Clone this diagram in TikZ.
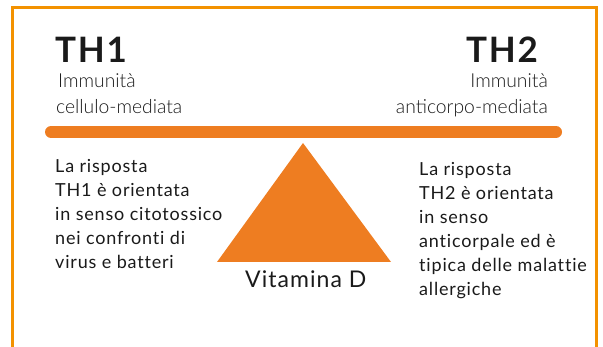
\documentclass[tikz,border=0pt]{standalone}
\usepackage{fontspec}
\setmainfont{Lato}
\newfontfamily\lightfont{Lato Light}
\newfontfamily\spacedfont[LetterSpace=4.5, Ligatures=NoCommon]{Lato}
\newfontfamily\titlefont[LetterSpace=5]{Lato Bold}
\definecolor{barorange}{HTML}{EE7D21}
\definecolor{frameorange}{HTML}{F39200}
\definecolor{txt}{HTML}{1A1A1A}
\begin{document}
\begin{tikzpicture}[x=1pt,y=-1pt,
  title/.style={font=\titlefont\fontsize{35}{40}\selectfont, text=txt, inner sep=0pt},
  sub/.style={font=\lightfont\fontsize{19.3}{25}\selectfont, text=txt, inner sep=0pt},
  para/.style={font=\spacedfont\fontsize{18}{24}\selectfont, text=txt, inner sep=0pt},
  vit/.style={font=\spacedfont\fontsize{23}{26}\selectfont, text=txt, inner sep=0pt}]
\useasboundingbox (0,0) rectangle (603,347);
\draw[frameorange, line width=3pt] (12.5,8) rectangle (596,370);
\draw[barorange, line width=12pt, line cap=round] (51,132) -- (556,132);
\fill[barorange] (303,143) -- (391,262) -- (217,262) -- cycle;
\node[title, anchor=base west] (th1) at (55,63) {TH1};
\node[title, anchor=base east] (th2) at (538,63) {TH2};
\node[sub, anchor=base west] (imm1) at (58,88) {Immunità};
\node[sub, anchor=base west] (cm) at (56,114) {cellulo-mediata};
\node[sub, anchor=base east] (imm2) at (548,88) {Immunità};
\node[sub, anchor=base east] (am) at (548,114) {anticorpo-mediata};
\node[para, anchor=base west] (p1) at (55,173) {\begin{tabular}[t]{@{}l@{}}La risposta\\TH1 è orientata\\in senso citotossico\\nei confronti di\\virus e batteri\end{tabular}};
\node[para, anchor=base west] (p2) at (419,176) {\begin{tabular}[t]{@{}l@{}}La risposta\\TH2 è orientata\\in senso\\anticorpale ed è\\tipica delle malattie\\allergiche\end{tabular}};
\node[vit, anchor=base west] (vd) at (245,288) {Vitamina D};
\end{tikzpicture}
\end{document}
